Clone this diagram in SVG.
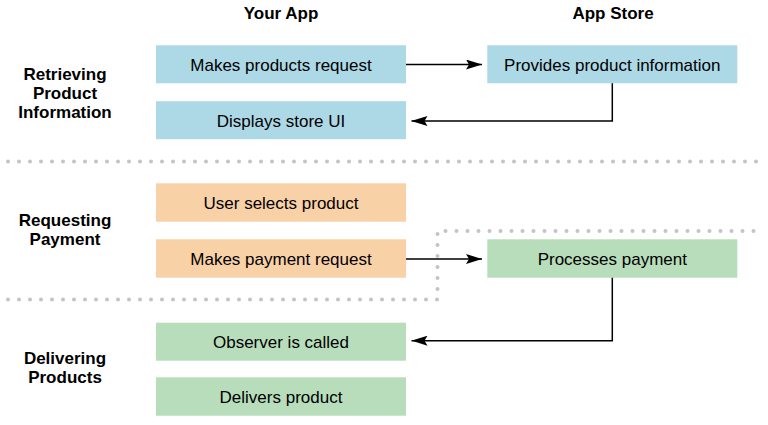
<svg xmlns="http://www.w3.org/2000/svg" width="768" height="425" viewBox="0 0 768 425">
<defs>
<marker id="ah" markerUnits="userSpaceOnUse" markerWidth="16" markerHeight="10" refX="16" refY="5" orient="auto">
<path d="M0,0 L16,5 L0,10 L3,5 z" fill="#000"/>
</marker>
<style>
.blue{fill:#add8e6}
.orange{fill:#f9d1a7}
.green{fill:#b7ddbb}
.bt{font-family:"Liberation Sans",Arial,sans-serif;font-size:17px;fill:#000;text-anchor:middle}
.hd{font-family:"Liberation Sans",Arial,sans-serif;font-size:17px;font-weight:bold;fill:#000;text-anchor:middle}
.sep{fill:none;stroke:#c4c4c4;stroke-width:4;stroke-linecap:round;stroke-dasharray:0 11}
.con{fill:none;stroke:#000;stroke-width:1.5;marker-end:url(#ah)}
</style>
</defs>
<rect width="768" height="425" fill="#fff"/>
<g id="headers">
<text class="hd" x="281" y="19">Your App</text>
<text class="hd" x="613" y="19">App Store</text>
</g>
<g id="phases">
<text class="hd" x="65" y="80">Retrieving</text>
<text class="hd" x="65" y="99">Product</text>
<text class="hd" x="65" y="118">Information</text>
<text class="hd" x="65" y="225.5">Requesting</text>
<text class="hd" x="65" y="245">Payment</text>
<text class="hd" x="65" y="364">Delivering</text>
<text class="hd" x="65" y="383">Products</text>
</g>
<g id="separators">
<path class="sep" d="M8,161.5 H758"/>
<path class="sep" d="M8,299.5 H437.5 V233 V231 H756"/>
</g>
<g id="n1"><rect class="blue" x="156" y="45.3" width="250" height="38"/><text class="bt" x="281" y="70.5">Makes products request</text></g>
<g id="n2"><rect class="blue" x="156" y="101.2" width="250" height="38"/><text class="bt" x="281" y="126.5">Displays store UI</text></g>
<g id="n3"><rect class="blue" x="487.3" y="45.3" width="250" height="38"/><text class="bt" x="612.3" y="70.5">Provides product information</text></g>
<g id="n4"><rect class="orange" x="156" y="183.3" width="250" height="38.4"/><text class="bt" x="281" y="208.8">User selects product</text></g>
<g id="n5"><rect class="orange" x="156" y="239.3" width="250" height="38.4"/><text class="bt" x="281" y="264.8">Makes payment request</text></g>
<g id="n6"><rect class="green" x="487.3" y="239.3" width="250" height="38.4"/><text class="bt" x="612.3" y="264.8">Processes payment</text></g>
<g id="n7"><rect class="green" x="156" y="322.7" width="250" height="38"/><text class="bt" x="281" y="348">Observer is called</text></g>
<g id="n8"><rect class="green" x="156" y="377.3" width="250" height="38.4"/><text class="bt" x="281" y="402.8">Delivers product</text></g>
<g id="connectors">
<path class="con" d="M406,64.5 H482"/>
<path class="con" d="M612.3,83.3 V121 H411.5"/>
<path class="con" d="M406,259 H482"/>
<path class="con" d="M612.3,277.7 V340.7 H411.5"/>
</g>
</svg>
